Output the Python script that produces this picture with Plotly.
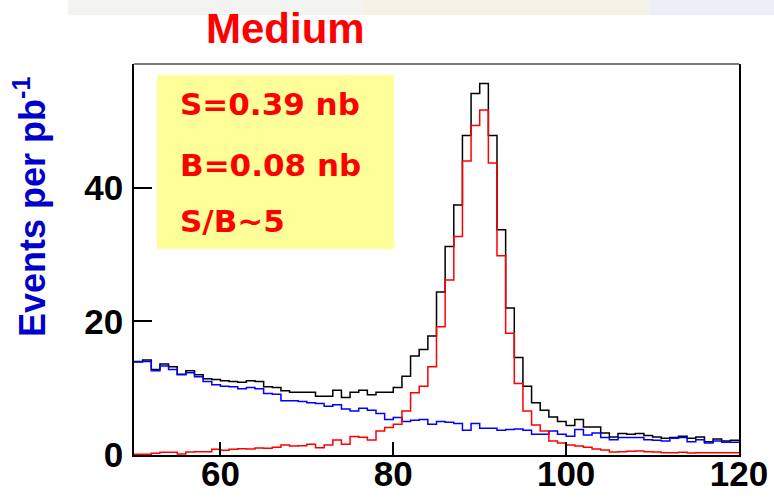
import numpy as np
import plotly.graph_objects as go

# Histogram binning: 1-unit bins from 50 to 120
bin_lo = 50
bin_hi = 120

# Total (signal + background), events per pb^-1 in each bin
total = [14.0, 14.2, 12.8, 13.6, 13.2, 12.1, 12.6, 12.0, 11.4, 11.3,
         11.1, 11.0, 10.9, 11.1, 11.0, 10.2, 10.1, 9.6, 9.4, 9.4,
         9.4, 8.8, 8.8, 9.7, 8.6, 9.4, 9.7, 9.0, 9.4, 9.4,
         10.1, 11.8, 14.8, 15.8, 17.8, 24.4, 31.2, 37.4, 47.8, 54.1,
         55.6, 47.8, 33.7, 22.0, 14.6, 10.3, 7.8, 6.7, 5.7, 5.0,
         4.4, 5.3, 4.2, 4.2, 3.3, 2.7, 3.2, 3.1, 3.2, 2.9,
         2.7, 2.5, 2.6, 2.8, 2.5, 2.7, 2.0, 2.4, 2.1, 2.2]

# Signal component
signal = [0.1, 0.1, 0.25, 0.4, 0.4, 0.15, 0.45, 0.5, 0.5, 0.85,
          0.7, 0.85, 0.95, 0.9, 1.05, 1.0, 1.15, 1.5, 1.35, 1.4,
          1.6, 1.1, 1.5, 2.25, 1.6, 2.75, 2.65, 2.25, 3.6, 4.1,
          4.6, 6.6, 9.3, 10.3, 13.2, 19.2, 26.2, 32.7, 44.0, 49.3,
          51.6, 43.7, 29.8, 18.2, 10.7, 6.6, 4.5, 3.6, 2.1, 1.8,
          1.5, 1.35, 1.15, 0.9, 0.75, 0.45, 0.5, 0.55, 0.6, 0.5,
          0.45, 0.35, 0.35, 0.4, 0.3, 0.35, 0.35, 0.35, 0.35, 0.35]

# Background component
background = [13.9, 14.0, 12.6, 13.3, 12.8, 12.0, 12.3, 11.7, 11.0, 10.5,
              10.3, 10.2, 9.9, 10.1, 9.9, 9.2, 9.1, 8.1, 8.1, 8.0,
              7.8, 7.7, 7.3, 7.5, 6.9, 6.6, 7.0, 6.7, 6.2, 5.3,
              5.6, 5.0, 5.2, 5.3, 4.6, 5.0, 4.9, 4.7, 3.7, 4.7,
              4.0, 4.0, 3.7, 3.8, 3.9, 3.7, 3.1, 3.1, 3.6, 3.1,
              2.8, 3.8, 3.0, 3.3, 2.6, 2.3, 2.6, 2.6, 2.6, 2.3,
              2.2, 2.1, 2.5, 2.6, 2.0, 2.3, 1.8, 2.1, 1.9, 1.9]

x_ticks = [60, 80, 100, 120]
y_ticks = [0, 20, 40]
title_text = "Medium"
y_title = "Events per pb<sup>-1</sup>"
info_lines = ["S=0.39 nb", "B=0.08 nb", "S/B~5"]

edges = np.arange(bin_lo, bin_hi + 1)


def step_y(vals):
    # repeat last bin content so the final step reaches the upper edge
    return list(vals) + [vals[-1]]


fig = go.Figure()
for vals, color in [(total, "#000000"), (background, "#0000ff"), (signal, "#ff0000")]:
    fig.add_trace(go.Scatter(
        x=edges, y=step_y(vals), mode="lines",
        line=dict(color=color, width=1.5, shape="hv"),
        showlegend=False, hoverinfo="skip",
    ))

tick_font = dict(family="Liberation Sans", size=35, color="#000000", weight="bold")

fig.update_layout(
    width=774, height=498,
    margin=dict(l=134, r=35, t=64, b=43),
    paper_bgcolor="#ffffff", plot_bgcolor="#ffffff",
    xaxis=dict(
        range=[bin_lo, bin_hi], tickvals=x_ticks, ticks="inside", ticklen=13,
        tickwidth=1.5, tickcolor="#000000", showline=True, linecolor="#000000",
        linewidth=1.5, showgrid=False, zeroline=False, tickfont=tick_font,
        automargin=False, ticklabelstandoff=-13,
    ),
    yaxis=dict(
        range=[0, 58.5], tickvals=y_ticks, ticks="inside", ticklen=18,
        tickwidth=1.5, tickcolor="#000000", showline=True, linecolor="#000000",
        linewidth=1.5, mirror=True, showgrid=False, zeroline=False, tickfont=tick_font,
        automargin=False, ticklabelstandoff=2,
    ),
)

shapes = [
    # faint banner strip across the top of the page
    dict(type="rect", xref="paper", yref="paper", x0=-0.109, x1=0.38, y0=1.125, y1=1.17,
         fillcolor="#f3f3f1", line=dict(width=0), layer="below"),
    dict(type="rect", xref="paper", yref="paper", x0=0.38, x1=0.85, y0=1.125, y1=1.17,
         fillcolor="#f6f3e6", line=dict(width=0), layer="below"),
    dict(type="rect", xref="paper", yref="paper", x0=0.85, x1=1.06, y0=1.125, y1=1.17,
         fillcolor="#eaf0f6", line=dict(width=0), layer="below"),
    # yellow info box
    dict(type="rect", xref="paper", yref="paper", x0=0.038, x1=0.430, y0=0.527, y1=0.972,
         fillcolor="#ffff99", line=dict(width=0), layer="below"),
    # top frame edge
    dict(type="line", xref="paper", yref="paper", x0=0, x1=1, y0=1, y1=1,
         line=dict(color="#7a7a7a", width=2)),
]
fig.update_layout(shapes=shapes)

annotations = [
    dict(text=title_text, xref="paper", yref="paper", x=0.2496, y=1.092,
         xanchor="center", yanchor="middle", showarrow=False,
         font=dict(family="Liberation Sans", size=42, color="#ff0000", weight="bold")),
    dict(text=y_title, xref="paper", yref="paper", x=-0.172, y=0.634,
         xanchor="center", yanchor="middle", showarrow=False, textangle=-90,
         font=dict(family="Liberation Sans", size=36, color="#0000cc", weight="bold")),
]
for line_text, ypos in zip(info_lines, [0.898, 0.742, 0.598]):
    annotations.append(dict(
        text=line_text, xref="paper", yref="paper", x=0.0727, y=ypos,
        xanchor="left", yanchor="middle", showarrow=False,
        font=dict(family="DejaVu Sans", size=31, color="#ff0000", weight="bold"),
    ))
fig.update_layout(annotations=annotations)

fig.write_html("out.html")
